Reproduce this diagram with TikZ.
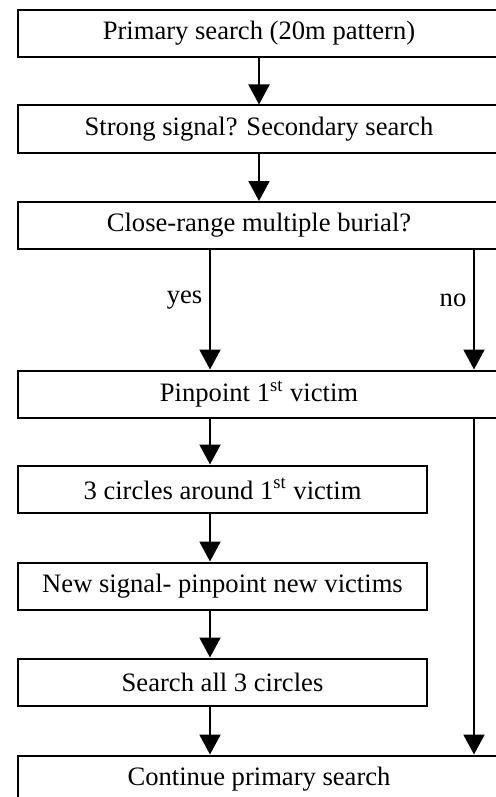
\documentclass[tikz,border=0pt]{standalone}
\usepackage{fontspec}
\setmainfont{Liberation Serif}
\usetikzlibrary{arrows.meta,positioning}

\begin{document}
\begin{tikzpicture}[
  x=0.5pt, y=-0.5pt,
  widebox/.style={draw, line width=1pt, minimum width=241pt, minimum height=23.5pt, inner sep=0pt, font=\fontsize{13.3}{16}\selectfont},
  narrowbox/.style={widebox, minimum width=204.5pt},
  flow/.style={->, line width=1pt},
  >={Triangle[width=10.5pt,length=10pt]}
]
  \clip (0,0) rectangle (496,797);

  % Column positions
  \coordinate (yesX) at (210,0);
  \coordinate (noX) at (474,0);

  % Top part
  \node[widebox] (primary) at (259,33.5) {Primary search (20m pattern)};
  \node[widebox] (strong) at (259,129) {Strong signal? Secondary search};
  \node[widebox] (burial) at (259,225.5) {Close-range multiple burial?};
  \node[widebox] (pin) at (259,394) {Pinpoint 1\textsuperscript{st} victim};

  % Multiple burial branch
  \node[narrowbox] (circles) at (222.5,489) {3 circles around 1\textsuperscript{st} victim};
  \node[narrowbox] (newsig) at (222.5,586) {New signal- pinpoint new victims};
  \node[narrowbox] (searchall) at (222.5,682) {Search all 3 circles};

  % Bottom
  \node[widebox] (cont) at (259,779) {Continue primary search};

  % Arrows
  \draw[flow] (primary) -- (strong);
  \draw[flow] (strong) -- (burial);
  \draw[flow] (burial.south -| yesX) -- (pin.north -| yesX)
    node[pos=0.42, left, font=\fontsize{13.3}{16}\selectfont] {yes};
  \draw[flow] (burial.south -| noX) -- (pin.north -| noX)
    node[pos=0.42, left, font=\fontsize{13.3}{16}\selectfont] {no};
  \draw[flow] (pin.south -| yesX) -- (circles.north -| yesX);
  \draw[flow] (circles.south -| yesX) -- (newsig.north -| yesX);
  \draw[flow] (newsig.south -| yesX) -- (searchall.north -| yesX);
  \draw[flow] (searchall.south -| yesX) -- (cont.north -| yesX);
  \draw[flow] (pin.south -| noX) -- (cont.north -| noX);
\end{tikzpicture}
\end{document}
